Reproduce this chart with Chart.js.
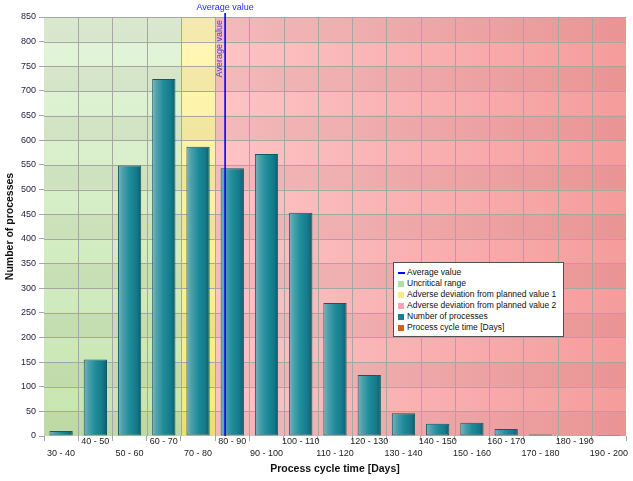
<!DOCTYPE html>
<html><head><meta charset="utf-8">
<script src="https://cdn.jsdelivr.net/npm/chart.js@4"></script>
<style>
html,body{margin:0;padding:0;background:#fff;}
#wrap{position:relative;width:633px;height:481px;}
#legend{position:absolute;left:393px;top:262px;width:171px;background:#fff;border:1px solid #505050;font:8.5px "Liberation Sans",Arial,sans-serif;color:#111;padding:4px 0 3px 4px;box-sizing:border-box;}
.li{height:11px;line-height:11px;white-space:nowrap;display:flex;align-items:center;}
.mk{width:6px;height:6px;margin-right:3px;display:inline-block;flex:none;}
.ln{width:7px;height:2px;margin-right:2px;display:inline-block;flex:none;}
</style></head>
<body><div id="wrap"><canvas id="c" width="633" height="481"></canvas><div id="legend"></div></div>
<script>
// ---- data ----
const categories = ['30 - 40','40 - 50','50 - 60','60 - 70','70 - 80','80 - 90','90 - 100','100 - 110','110 - 120','120 - 130','130 - 140','140 - 150','150 - 160','160 - 170','170 - 180','180 - 190','190 - 200'];
const processCounts = [10,155,549,724,587,543,572,453,270,124,46,25,27,14,3,0,2];
const yMin = 0, yMax = 850, yStep = 50;
const averageDays = 82.9;
const firstDay = 30, binDays = 10;
const uncriticalRange = [30,70];
const adverse1Range = [70,80];
const adverse2Range = [80,200];
const legendLabels = ['Average value','Uncritical range','Adverse deviation from planned value 1','Adverse deviation from planned value 2','Number of processes','Process cycle time [Days]'];
const legendColors = ['#0000ff','#b4e09c','#f6ee7a','#f7a4aa','#1b7f8e','#d2600e'];
const legendKinds = ['line','box','box','box','box','box'];
const xTitle = 'Process cycle time [Days]';
const yTitle = 'Number of processes';
const avgLabel = 'Average value';

const dayToIndex = d => (d - firstDay) / binDays - 0.5;
const barPct = 0.68;

const bandsPlugin = {
  id:'bands',
  beforeDatasetsDraw(chart){
    const {ctx, chartArea:ca, scales:{x,y}} = chart;
    ctx.save();
    const band = (r, fill) => {
      const x0 = x.getPixelForValue(dayToIndex(r[0])), x1 = x.getPixelForValue(dayToIndex(r[1]));
      ctx.fillStyle = fill; ctx.fillRect(x0, ca.top, x1 - x0, ca.bottom - ca.top);
    };
    let g = ctx.createLinearGradient(0, ca.top, 0, ca.bottom);
    g.addColorStop(0,'#e3f5da'); g.addColorStop(1,'#c6e5ae');
    band(uncriticalRange, g);
    g = ctx.createLinearGradient(0, ca.top, 0, ca.bottom);
    g.addColorStop(0,'#fff7b8'); g.addColorStop(1,'#f8e97c');
    band(adverse1Range, g);
    const px0 = x.getPixelForValue(dayToIndex(adverse2Range[0]));
    g = ctx.createLinearGradient(px0, 0, ca.right, 0);
    g.addColorStop(0,'#fdc4c6'); g.addColorStop(1,'#f59c9c');
    band(adverse2Range, g);
    // interlaced stripes
    ctx.fillStyle = 'rgba(60,40,40,0.06)';
    for (let v = yMin, k = 0; v < yMax; v += yStep, k++) {
      if (k % 2 === 0) {
        const a = y.getPixelForValue(v + yStep), b = y.getPixelForValue(v);
        ctx.fillRect(ca.left, a, ca.right - ca.left, b - a);
      }
    }
    // grid
    ctx.strokeStyle = '#a6a6a6'; ctx.lineWidth = 1;
    ctx.beginPath();
    for (let v = yMin + yStep; v <= yMax; v += yStep) {
      const py = Math.round(y.getPixelForValue(v)) + 0.5;
      ctx.moveTo(ca.left, py); ctx.lineTo(ca.right, py);
    }
    for (let i = 1; i < categories.length; i++) {
      const px = Math.round(x.getPixelForValue(i - 0.5)) + 0.5;
      ctx.moveTo(px, ca.top); ctx.lineTo(px, ca.bottom);
    }
    ctx.stroke();
    ctx.restore();
  },
  afterDatasetsDraw(chart){
    const {ctx, chartArea:ca, scales:{x}} = chart;
    const px = x.getPixelForValue(dayToIndex(averageDays));
    ctx.save();
    ctx.strokeStyle = '#0000ff'; ctx.lineWidth = 1.6;
    ctx.beginPath(); ctx.moveTo(px, 13); ctx.lineTo(px, ca.bottom); ctx.stroke();
    ctx.font = '9px "Liberation Sans", Arial, sans-serif';
    ctx.fillStyle = '#2a2aff'; ctx.textAlign = 'center'; ctx.textBaseline = 'middle';
    ctx.fillText(avgLabel, px, 7.5);
    ctx.translate(px - 6, 20); ctx.rotate(-Math.PI/2);
    ctx.fillStyle = '#4646c8'; ctx.textAlign = 'right';
    ctx.fillText(avgLabel, 0, 0);
    ctx.restore();
  }
};

new Chart(document.getElementById('c'), {
  type:'bar',
  data:{ labels:categories, datasets:[{
    label:'Number of processes', data:processCounts,
    barPercentage:barPct, categoryPercentage:1,
    borderWidth:1, borderColor:'#0e5a66', borderSkipped:false,
    backgroundColor:(c) => {
      const chart = c.chart;
      if (!chart.chartArea || c.type !== 'data') return '#1f8a98';
      const xs = chart.scales.x;
      const cx = xs.getPixelForValue(c.dataIndex);
      const w = xs.width / categories.length * barPct;
      const g = chart.ctx.createLinearGradient(cx - w/2, 0, cx + w/2, 0);
      g.addColorStop(0,'#7cb4bc'); g.addColorStop(0.2,'#4da0ac'); g.addColorStop(0.5,'#1e8c9a');
      g.addColorStop(0.8,'#16798a'); g.addColorStop(1,'#0f5c6a');
      return g;
    }
  }]},
  options:{
    responsive:false, animation:false, devicePixelRatio:1,
    layout:{padding:{top:17,right:7,left:0,bottom:0}},
    plugins:{legend:{display:false}, tooltip:{enabled:false}},
    scales:{
      x:{
        grid:{display:true, drawOnChartArea:false, color:'#a6a6a6', tickLength:5, offset:true},
        border:{display:false},
        ticks:{autoSkip:false, maxRotation:0, padding:-5, color:'#222',
          font:{family:'"Liberation Sans", Arial, sans-serif', size:9, lineHeight:'12px'},
          callback:(v,i) => i % 2 === 0 ? ['', categories[i]] : categories[i]},
        title:{display:true, text:xTitle, color:'#111', padding:{top:0,bottom:6},
          font:{family:'"Liberation Sans", Arial, sans-serif', size:10.5, weight:'bold'}},
        afterFit:(s) => { s.height = 45; }
      },
      y:{
        min:yMin, max:yMax,
        grid:{display:true, drawOnChartArea:false, color:'#a6a6a6', tickLength:5},
        border:{display:false},
        ticks:{stepSize:yStep, padding:3, color:'#1c1c3c',
          font:{family:'"Liberation Sans", Arial, sans-serif', size:9}},
        title:{display:true, text:yTitle, color:'#111', padding:{top:4,bottom:0},
          font:{family:'"Liberation Sans", Arial, sans-serif', size:10.5, weight:'bold'}},
        afterFit:(s) => { s.width = 44; }
      }
    }
  },
  plugins:[bandsPlugin]
});

const lg = document.getElementById('legend');
legendLabels.forEach((t,i) => {
  const d = document.createElement('div'); d.className = 'li';
  const m = document.createElement('span');
  m.className = legendKinds[i] === 'line' ? 'ln' : 'mk';
  m.style.background = legendColors[i];
  d.appendChild(m);
  const s = document.createElement('span'); s.textContent = t; d.appendChild(s);
  lg.appendChild(d);
});
</script>
</body></html>
